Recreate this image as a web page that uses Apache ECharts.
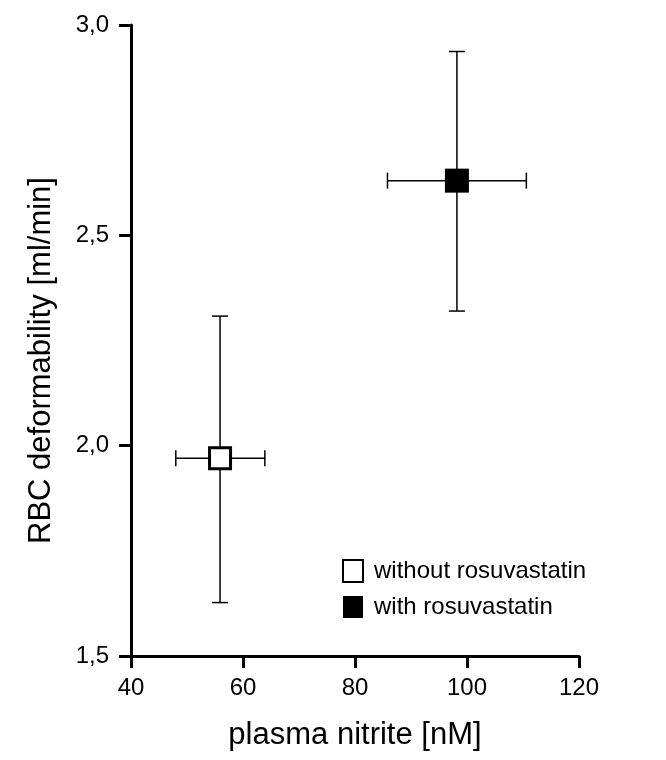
<!DOCTYPE html>
<html>
<head>
<meta charset="utf-8">
<script src="https://cdn.jsdelivr.net/npm/echarts@6/dist/echarts.min.js"></script>
<style>html,body{margin:0;padding:0;background:#fff;}#c{width:666px;height:760px;}</style>
</head>
<body>
<div id="c"></div>
<script>
var groups = ['without rosuvastatin', 'with rosuvastatin'];
var xMean = [55.9, 98.2];
var xLow = [48.0, 85.8];
var xHigh = [63.9, 110.6];
var yMean = [1.97, 2.63];
var yLow = [1.627, 2.32];
var yHigh = [2.308, 2.937];
var xTicks = [40, 60, 80, 100, 120];
var yTicks = [1.5, 2.0, 2.5, 3.0];
var yTickLabels = ['1,5', '2,0', '2,5', '3,0'];

var FONT = '"Liberation Sans", Arial, Helvetica, sans-serif';
var chart = echarts.init(document.getElementById('c'));

function errData(i) { return [xMean[i], yMean[i], xLow[i], xHigh[i], yLow[i], yHigh[i]]; }

function renderErr(params, api) {
  var xm = api.value(0), ym = api.value(1);
  var c = api.coord([xm, ym]);
  var pxl = api.coord([api.value(2), ym]);
  var pxh = api.coord([api.value(3), ym]);
  var pyl = api.coord([xm, api.value(4)]);
  var pyh = api.coord([xm, api.value(5)]);
  var cap = 8;
  var st = { stroke: '#000', lineWidth: 1.5 };
  return {
    type: 'group',
    children: [
      { type: 'line', shape: { x1: pxl[0], y1: c[1], x2: pxh[0], y2: c[1] }, style: st },
      { type: 'line', shape: { x1: pxl[0], y1: c[1] - cap, x2: pxl[0], y2: c[1] + cap }, style: st },
      { type: 'line', shape: { x1: pxh[0], y1: c[1] - cap, x2: pxh[0], y2: c[1] + cap }, style: st },
      { type: 'line', shape: { x1: c[0], y1: pyl[1], x2: c[0], y2: pyh[1] }, style: st },
      { type: 'line', shape: { x1: c[0] - cap, y1: pyl[1], x2: c[0] + cap, y2: pyl[1] }, style: st },
      { type: 'line', shape: { x1: c[0] - cap, y1: pyh[1], x2: c[0] + cap, y2: pyh[1] }, style: st }
    ]
  };
}

chart.setOption({
  animation: false,
  backgroundColor: '#fff',
  grid: { left: 131, right: 87, top: 25, bottom: 104, containLabel: false, outerBoundsMode: 'none' },
  xAxis: {
    type: 'value', min: 40, max: 120, interval: 20,
    name: 'plasma nitrite [nM]', nameLocation: 'middle', nameGap: 64,
    nameTextStyle: { fontSize: 31, color: '#000', fontFamily: FONT },
    axisLine: { show: true, onZero: false, lineStyle: { color: '#000', width: 3 } },
    axisTick: { show: true, length: 12, lineStyle: { color: '#000', width: 3 } },
    axisLabel: { margin: 20, fontSize: 24, color: '#000', fontFamily: FONT,
      formatter: function (v) { var k = xTicks.indexOf(v); return k >= 0 ? String(xTicks[k]) : ''; } },
    splitLine: { show: false }
  },
  yAxis: {
    type: 'value', min: 1.5, max: 3.0, interval: 0.5,
    name: 'RBC deformability [ml/min]', nameLocation: 'middle', nameGap: 74, nameRotate: 90,
    nameTextStyle: { fontSize: 31, color: '#000', fontFamily: FONT, padding: [0, 40, 0, 0] },
    axisLine: { show: true, onZero: false, lineStyle: { color: '#000', width: 3 } },
    axisTick: { show: true, length: 12, lineStyle: { color: '#000', width: 3 } },
    axisLabel: { margin: 22, fontSize: 24, color: '#000', fontFamily: FONT,
      formatter: function (v) {
        for (var k = 0; k < yTicks.length; k++) { if (Math.abs(yTicks[k] - v) < 1e-6) return yTickLabels[k]; }
        return '';
      } },
    splitLine: { show: false }
  },
  legend: {
    orient: 'vertical', left: 337, top: 554, itemWidth: 20, itemHeight: 22, itemGap: 12,
    textStyle: { fontSize: 24, color: '#000', fontFamily: FONT, padding: [0, 0, 0, 6] },
    data: [
      { name: groups[0], icon: 'rect', itemStyle: { color: '#fff', borderColor: '#000', borderWidth: 2 } },
      { name: groups[1], icon: 'rect', itemStyle: { color: '#000', borderColor: '#000', borderWidth: 0 } }
    ]
  },
  series: [
    { type: 'custom', name: 'err0', renderItem: renderErr, data: [errData(0)], z: 1, silent: true,
      encode: { x: 0, y: 1 } },
    { type: 'custom', name: 'err1', renderItem: renderErr, data: [errData(1)], z: 1, silent: true,
      encode: { x: 0, y: 1 } },
    { type: 'scatter', name: groups[0], symbol: 'rect', symbolSize: 21, z: 5,
      itemStyle: { color: '#fff', borderColor: '#000', borderWidth: 3, opacity: 1 },
      data: [[xMean[0], yMean[0]]] },
    { type: 'scatter', name: groups[1], symbol: 'rect', symbolSize: 24, z: 5,
      itemStyle: { color: '#000', borderColor: '#000', borderWidth: 0, opacity: 1 },
      data: [[xMean[1], yMean[1]]] }
  ]
});
</script>
</body>
</html>
